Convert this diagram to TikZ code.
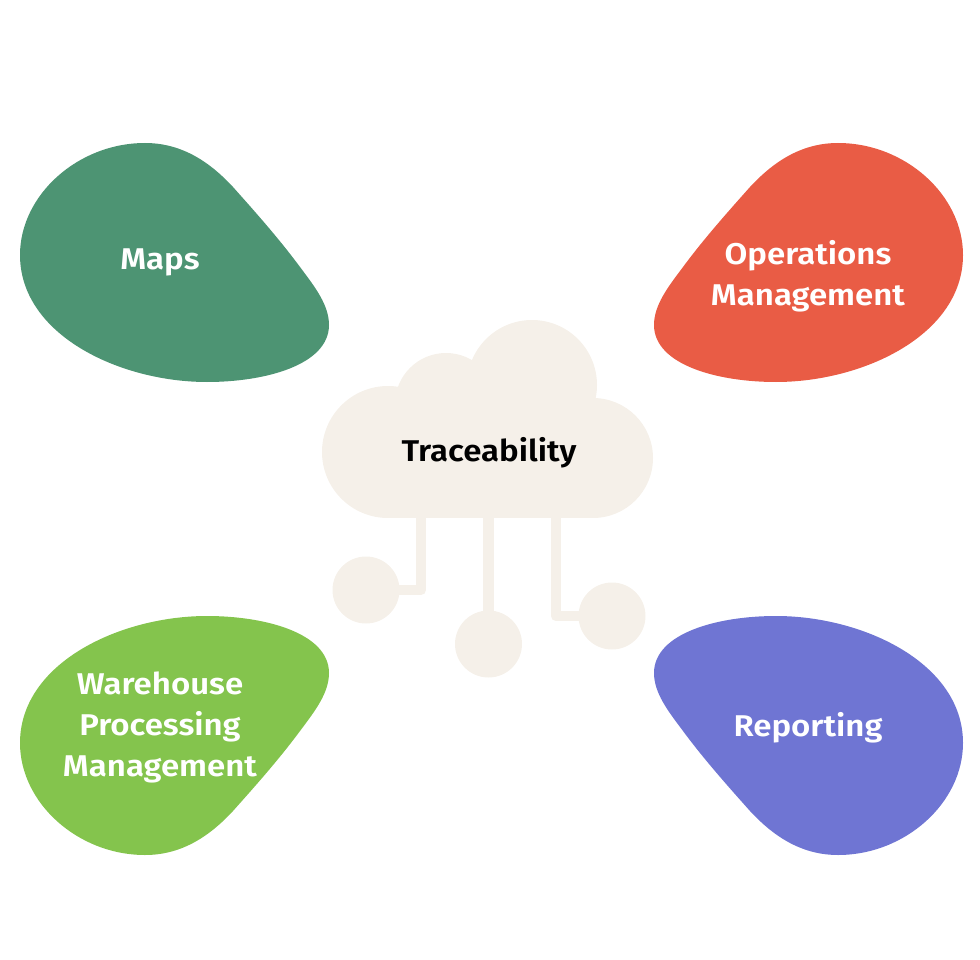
\documentclass[tikz,border=0pt]{standalone}
\usepackage{fontspec}
\setmainfont{Fira Sans}[UprightFont=* SemiBold, FakeStretch=1.1]
\definecolor{mapscol}{HTML}{4D9473}
\definecolor{opscol}{HTML}{E95C45}
\definecolor{warecol}{HTML}{84C44D}
\definecolor{repcol}{HTML}{6F75D3}
\definecolor{cloudcol}{HTML}{F5F0E9}
\newcommand{\blobshape}{(145,143) .. controls (180,143) and (208,160) .. (233,187)
  .. controls (258,215) and (280,240) .. (300,267)
  .. controls (315,287) and (329,305) .. (329,325)
  .. controls (329,365) and (265,382) .. (207,382)
  .. controls (120,382) and (20,335) .. (20,255)
  .. controls (20,195) and (78,143) .. (145,143) -- cycle}
\tikzset{
  bloblabel/.style={white, font=\fontsize{30}{41}\selectfont, align=center},
  cloudline/.style={draw=cloudcol, line width=10.5pt, line join=round, line cap=round},
  leaf/.style={circle, fill=cloudcol, minimum size=67pt, inner sep=0pt}
}
\begin{document}
\begin{tikzpicture}[x=1pt, y=-1pt]
  \useasboundingbox (0,0) rectangle (980,960);
  % blobs
  \fill[mapscol] \blobshape;
  \begin{scope}[xshift=983pt, xscale=-1]
    \fill[opscol] \blobshape;
  \end{scope}
  \begin{scope}[yshift=-998pt, yscale=-1]
    \fill[warecol] \blobshape;
  \end{scope}
  \begin{scope}[xshift=983pt, xscale=-1, yshift=-998pt, yscale=-1]
    \fill[repcol] \blobshape;
  \end{scope}
  % cloud
  \fill[cloudcol] (388,452) circle (66);
  \fill[cloudcol] (593,458) circle (60);
  \fill[cloudcol] (446,404) circle (51);
  \fill[cloudcol] (532,385) circle (65);
  \fill[cloudcol] (388,400) rectangle (593,518);
  \node (leafa) [leaf] at (366,590) {};
  \node (leafb) [leaf] at (488.5,644) {};
  \node (leafc) [leaf] at (612,616) {};
  \coordinate (roota) at (421,515);
  \coordinate (rootb) at (488.5,515);
  \coordinate (rootc) at (556,515);
  \draw[cloudline] (roota) |- (leafa);
  \draw[cloudline] (rootb) -- (leafb);
  \draw[cloudline] (rootc) |- (leafc);
  % labels
  \node (cloudtxt) [black, font=\fontsize{30}{41}\selectfont] at (489,453) {Traceability};
  \node (maps) [bloblabel] at (160,262) {Maps};
  \node (ops) [bloblabel] at (808,276) {Operations\\Management};
  \node (ware) [bloblabel] at (160,727) {Warehouse\\Processing\\Management};
  \node (rep) [bloblabel] at (808,728) {Reporting};
\end{tikzpicture}
\end{document}
